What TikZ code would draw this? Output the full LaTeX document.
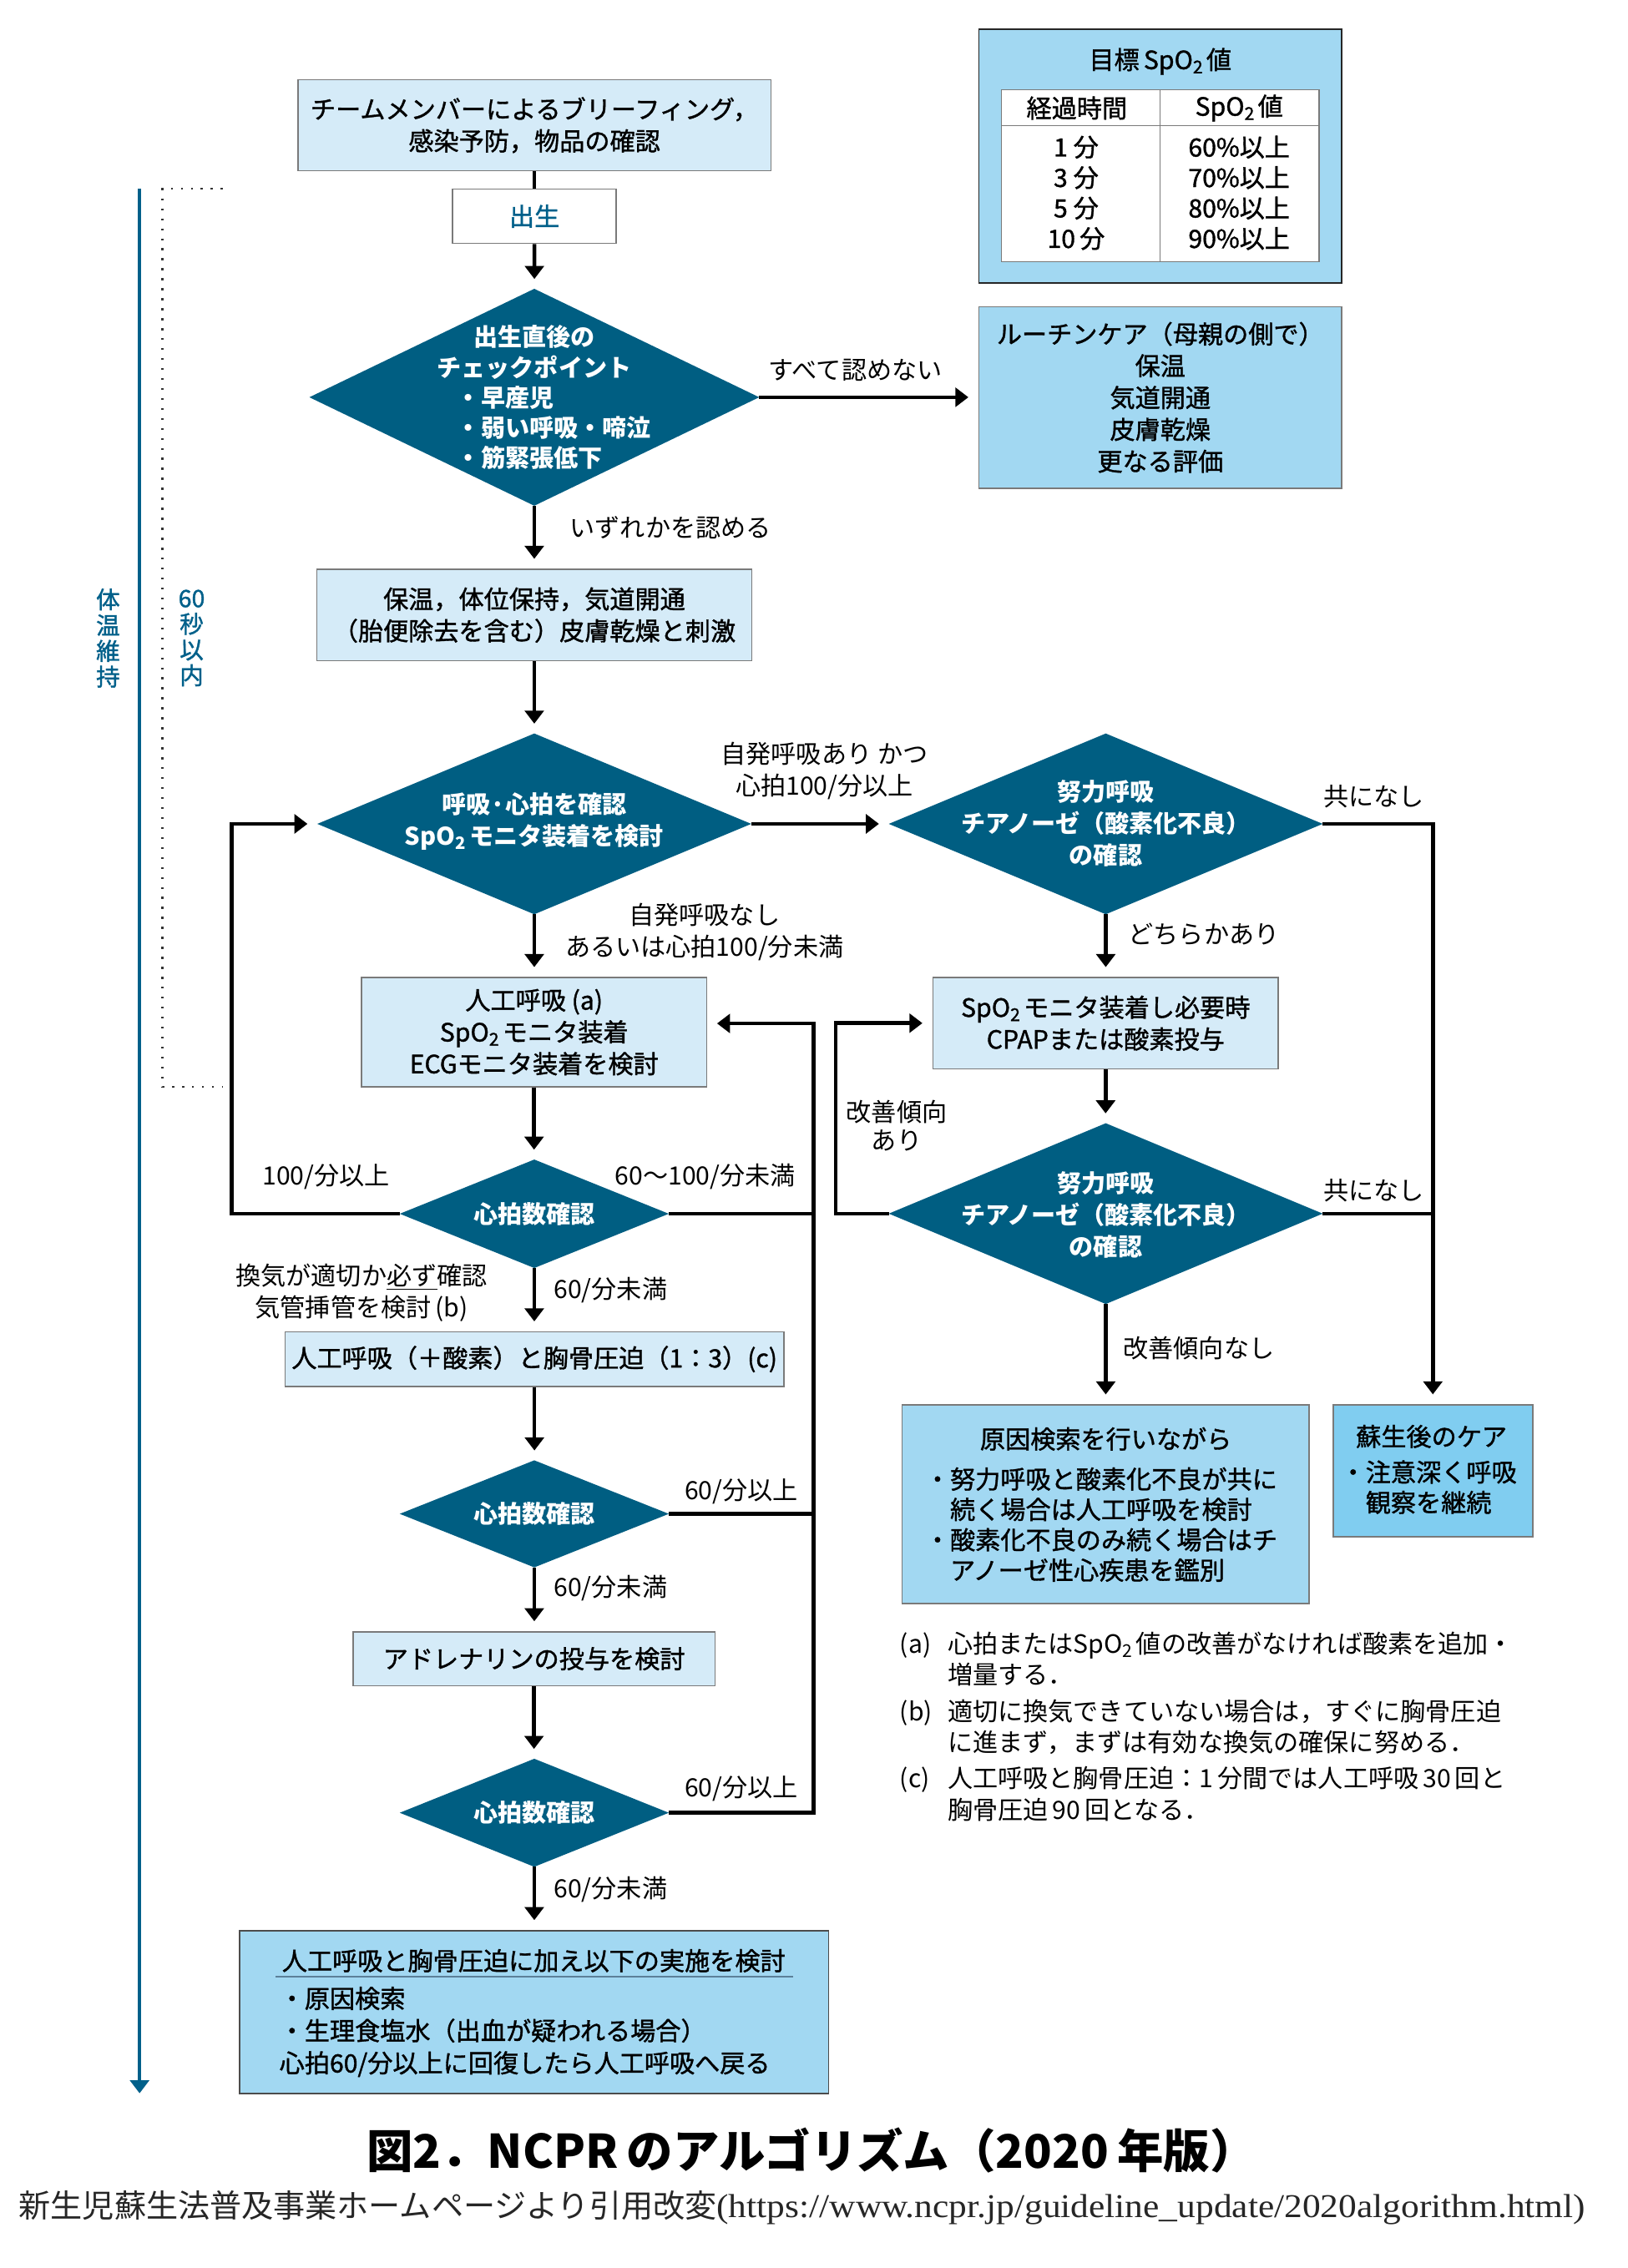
\documentclass[tikz,border=0pt]{standalone}
\usepackage{fontspec}
\setmainfont{Noto Sans CJK JP}
\newfontfamily\jpmed{Noto Sans CJK JP}[FakeBold=1.2]
\newfontfamily\urlserif{Liberation Serif}
\usetikzlibrary{shapes.geometric,arrows.meta}
\definecolor{diafill}{HTML}{005E82}
\definecolor{lightfill}{HTML}{D5EBF8}
\definecolor{midfill}{HTML}{A2D8F2}
\definecolor{carefill}{HTML}{80CDF0}
\definecolor{ncblue}{HTML}{00608A}
\definecolor{boxline}{HTML}{7A7A7A}
\definecolor{finalline}{HTML}{5C8099}
\newcommand\SpOtwo{SpO\textsubscript{2}\hspace{2pt}}
\newcommand\boxfont{\jpmed\fontsize{17.4}{22}\selectfont}
\newcommand\boxfontb{\jpmed\fontsize{17.4}{21}\selectfont}
\newcommand\tablefont{\jpmed\fontsize{17.4}{21.07}\selectfont}
\newcommand\labfont{\fontsize{17.4}{21.5}\selectfont}
\newcommand\diafont{\bfseries\fontsize{16.8}{22}\selectfont}
\newcommand\diafontA{\bfseries\fontsize{16.8}{21}\selectfont}
\newcommand\titlefont{\bfseries\fontsize{32}{36}\selectfont}
\newcommand\vfont{\jpmed\fontsize{16.5}{17.8}\selectfont}
\tikzset{
 lbox/.style={draw=boxline, line width=0.9pt, fill=lightfill, align=center, inner sep=0pt, font=\boxfont},
 mbox/.style={lbox, fill=midfill},
 dia/.style={diamond, fill=diafill, inner sep=0pt, outer sep=0pt},
 dtext/.style={text=white, align=center, inner sep=0pt, font=\diafont},
 lab/.style={align=center, inner sep=0pt, font=\labfont},
 note/.style={align=left, inner sep=0pt, anchor=west, font=\labfont},
 vtext/.style={align=center, inner sep=0pt, text=ncblue, font=\vfont},
 flow/.style={line width=2.7pt, black},
 arr/.style={flow, -{Triangle[width=13pt,length=9pt]}, shorten >=6.8pt},
}
\begin{document}
\begin{tikzpicture}[x=1pt,y=-1pt]
\useasboundingbox (0,0) rectangle (1125,1568.3);
\fill[white] (0,0) rectangle (1125,1568.3);

% left timeline
\coordinate (btop) at (96.5,130.6);
\coordinate (bbot) at (96.5,1447.5);
\draw[ncblue, line width=2.2pt, -{Triangle[width=13pt,length=9pt]}] (btop) -- (bbot);
\coordinate (dA) at (154,130.6);
\coordinate (dB) at (112.3,130.6);
\coordinate (dC) at (112.3,751.5);
\coordinate (dD) at (154,751.5);
\draw[black!80, line width=1.4pt, dash pattern=on 1.4pt off 5.5pt] (dA) -- (dB) -- (dC) -- (dD);
\node[vtext] (vt1) at (74.7,441.2) {体\\温\\維\\持};
\node[vtext] (vt2) at (132.5,441.2) {60\\秒\\以\\内};

% top
\node[lbox, minimum width=327pt, minimum height=63pt] (brief) at (369.5,86.5) {チームメンバーによるブリーフィング，\\感染予防，物品の確認};
\node[lbox, fill=white, text=ncblue, minimum width=113pt, minimum height=37.7pt] (birth) at (369.5,149.5) {出生};

% target SpO2 table
\node[mbox, draw=black!85, line width=1pt, minimum width=250.8pt, minimum height=175.8pt] (target) at (802.2,107.9) {};
\node[lab, font=\boxfont] (targett) at (802.2,42.5) {目標\hspace{3pt}\SpOtwo 値};
\node[draw=boxline, fill=white, line width=0.8pt, minimum width=219.5pt, minimum height=119pt, inner sep=0pt] (tbl) at (802.25,121.5) {};
\draw[boxline, line width=0.8pt] (692.5,87) -- (912,87);
\draw[boxline, line width=0.8pt] (802,62) -- (802,181);
\node[lab, font=\boxfont] (th1) at (744.5,74.7) {経過時間};
\node[lab, font=\boxfont] (th2) at (856.7,74.7) {\SpOtwo 値};
\node[lab, font=\tablefont] (tc1) at (744,133.4) {1\hspace{4pt}分\\3\hspace{4pt}分\\5\hspace{4pt}分\\10\hspace{3pt}分};
\node[lab, font=\tablefont] (tc2) at (856.7,133.4) {60\%以上\\70\%以上\\80\%以上\\90\%以上};

% first decision
\node[dia, minimum width=311pt, minimum height=150pt] (d1) at (369.4,274.7) {};
\node[dtext, font=\diafontA] (d1a) at (369.4,243.5) {出生直後の\\チェックポイント};
\node[dtext, font=\diafontA, align=left, anchor=west] (d1b) at (315.5,295.8) {・早産児\\・弱い呼吸・啼泣\\・筋緊張低下};
\node[mbox, minimum width=250.8pt, minimum height=125.6pt] (routine) at (802.2,274.8) {ルーチンケア（母親の側で）\\保温\\気道開通\\皮膚乾燥\\更なる評価};
\node[lab] (l1) at (591.5,256) {すべて認めない};
\node[lab, anchor=west] (l2) at (393.8,364.6) {いずれかを認める};

\node[lbox, minimum width=300.8pt, minimum height=63.2pt] (warm) at (369.4,425.3) {保温，体位保持，気道開通\\（胎便除去を含む）皮膚乾燥と刺激};

% second row
\node[dia, minimum width=300pt, minimum height=125pt] (d2) at (369.4,569.7) {};
\node[dtext] (d2t) at (369.4,567.9) {呼吸·心拍を確認\\\SpOtwo モニタ装着を検討};
\node[dia, minimum width=300pt, minimum height=125pt] (d3) at (764.5,569.7) {};
\node[dtext] (d3t) at (764.5,569.2) {努力呼吸\\チアノーゼ（酸素化不良）\\の確認};
\node[lab] (l3) at (570,533) {自発呼吸あり かつ\\心拍100/分以上};
\node[lab] (l4) at (950,550.5) {共になし};
\node[lab] (l5) at (487,644.4) {自発呼吸なし\\あるいは心拍100/分未満};
\node[lab, anchor=west] (l6) at (780,645.8) {どちらかあり};

\node[lbox, minimum width=238.5pt, minimum height=75.5pt] (ai) at (369.25,713.75) {人工呼吸 (a)\\\SpOtwo モニタ装着\\ECGモニタ装着を検討};
\node[lbox, minimum width=238.8pt, minimum height=63pt] (cpap) at (764.4,707.5) {\SpOtwo モニタ装着し必要時\\CPAPまたは酸素投与};

\node[dia, minimum width=186pt, minimum height=75pt] (d5) at (369.4,839.3) {};
\node[dtext] (d5t) at (369.4,839.3) {心拍数確認};
\node[dia, minimum width=300pt, minimum height=125pt] (d4) at (764.5,839.2) {};
\node[dtext] (d4t) at (764.5,839.9) {努力呼吸\\チアノーゼ（酸素化不良）\\の確認};
\node[lab, font=\fontsize{17.4}{20}\selectfont] (l7) at (620,778.5) {改善傾向\\あり};
\node[lab] (l8) at (225.5,813.6) {100/分以上};
\node[lab] (l9) at (487.7,813.6) {60～100/分未満};
\node[lab] (l10) at (950,823.3) {共になし};
\node[lab, font=\fontsize{17.4}{22}\selectfont] (l11) at (250,894) {換気が適切か\underline{必ず}確認\\気管挿管を検討\,(b)};
\node[lab, anchor=west] (l12) at (382.8,892) {60/分未満};
\node[lab, anchor=west] (l13) at (776.4,932) {改善傾向なし};

\node[lbox, minimum width=345pt, minimum height=37.6pt] (cpr) at (369.5,939.8) {人工呼吸（＋酸素）と胸骨圧迫（1：3）(c)};

\node[mbox, minimum width=281.2pt, minimum height=137.4pt] (cause) at (764.4,1040.2) {};
\node[lab, font=\boxfont] (causet) at (764.6,995) {原因検索を行いながら};
\node[lab, font=\boxfontb, align=left, anchor=west] (causeb) at (639.3,1054.2) {・努力呼吸と酸素化不良が共に\\　続く場合は人工呼吸を検討\\・酸素化不良のみ続く場合はチ\\　アノーゼ性心疾患を鑑別};
\node[mbox, fill=carefill, minimum width=137.9pt, minimum height=91.1pt] (care) at (990.65,1017) {};
\node[lab, font=\boxfont] (caret) at (989.7,993.3) {蘇生後のケア};
\node[lab, font=\boxfontb, align=left, anchor=west] (careb) at (926.6,1028.4) {・注意深く呼吸\\　観察を継続};

\node[dia, minimum width=186pt, minimum height=74pt] (d6) at (369.4,1046.8) {};
\node[dtext] (d6t) at (369.4,1046.8) {心拍数確認};
\node[lab] (l14) at (512.5,1031.3) {60/分以上};
\node[lab, anchor=west] (l15) at (382.8,1098.3) {60/分未満};

\node[lbox, minimum width=250.4pt, minimum height=37.3pt] (adr) at (369.2,1147) {アドレナリンの投与を検討};

\node[dia, minimum width=186pt, minimum height=74.7pt] (d7) at (369.4,1253.5) {};
\node[dtext] (d7t) at (369.4,1253.5) {心拍数確認};
\node[lab] (l16) at (512.5,1237) {60/分以上};
\node[lab, anchor=west] (l17) at (382.8,1306.3) {60/分未満};

\node[mbox, draw=black!70, minimum width=407.3pt, minimum height=112.5pt] (final) at (369.35,1391.25) {};
\node[lab, font=\boxfont] (finalt) at (369,1355.8) {人工呼吸と胸骨圧迫に加え以下の実施を検討};
\draw[finalline, line width=1pt] (190.6,1367) -- (548.5,1367);
\node[lab, font=\jpmed\fontsize{17.4}{22.3}\selectfont, align=left, anchor=west] (finalb) at (193,1405) {・原因検索\\・生理食塩水（出血が疑われる場合）\\心拍60/分以上に回復したら人工呼吸へ戻る};

% notes
\node[note] (na) at (622,1147) {\makebox[33pt][l]{(a)}心拍または\SpOtwo 値の改善がなければ酸素を追加・\\\hspace*{33pt}増量する．};
\node[note] (nb) at (622,1194) {\makebox[33pt][l]{(b)}適切に換気できていない場合は，すぐに胸骨圧迫\\\hspace*{33pt}に進まず，まずは有効な換気の確保に努める．};
\node[note] (nc) at (622,1240.4) {\makebox[33pt][l]{(c)}人工呼吸と胸骨圧迫：1\,分間では人工呼吸\,30\,回と\\\hspace*{33pt}胸骨圧迫\,90\,回となる．};

% title and source
\node[inner sep=0pt, font=\titlefont] (title) at (561,1487) {図2．NCPR\hspace{6pt}のアルゴリズム（2020\hspace{6pt}年版）};
\node[inner sep=0pt, anchor=west, text=black!85] (cite) at (12.9,1526.6) {\fontsize{22}{24}\selectfont 新生児蘇生法普及事業ホームページより引用改変\scalebox{1.09}[1]{\urlserif\fontsize{23}{24}\selectfont (https://www.ncpr.jp/guideline\_update/2020algorithm.html)}};

% connectors
\draw[flow] (brief) -- (birth);
\draw[arr] (birth) -- (d1);
\draw[arr] (d1.east) -- (d1.east -| routine.west);
\draw[arr] (d1.south) -- (d1.south |- warm.north);
\draw[arr] (warm.south) -- (warm.south |- d2.north);
\draw[arr] (d2.east) -- (d3.west);
\draw[arr] (d2.south) -- (d2.south |- ai.north);
\draw[arr] (ai.south) -- (ai.south |- d5.north);
\draw[arr] (d5.south) -- (d5.south |- cpr.north);
\draw[arr] (cpr.south) -- (cpr.south |- d6.north);
\draw[arr] (d6.south) -- (d6.south |- adr.north);
\draw[arr] (adr.south) -- (adr.south |- d7.north);
\draw[arr] (d7.south) -- (d7.south |- final.north);
\coordinate (loopL) at (160,839.3);
\draw[arr] (d5.west) -- (loopL) |- (d2.west);
\coordinate (loopR) at (562.5,707.7);
\draw[flow] (d5.east) -- (d5.east -| loopR);
\draw[flow] (d6.east) -- (d6.east -| loopR);
\draw[arr] (d7.east) -| (loopR) -- (loopR -| ai.east);
\draw[arr] (d3.south) -- (d3.south |- cpap.north);
\draw[arr] (cpap.south) -- (cpap.south |- d4.north);
\coordinate (loopC) at (577.8,707.5);
\draw[arr] (d4.west) -| (loopC) -- (loopC -| cpap.west);
\draw[arr] (d3.east) -| (care.north);
\draw[flow] (d4.east) -- (d4.east -| care.north);
\draw[arr] (d4.south) -- (d4.south |- cause.north);
\end{tikzpicture}
\end{document}
